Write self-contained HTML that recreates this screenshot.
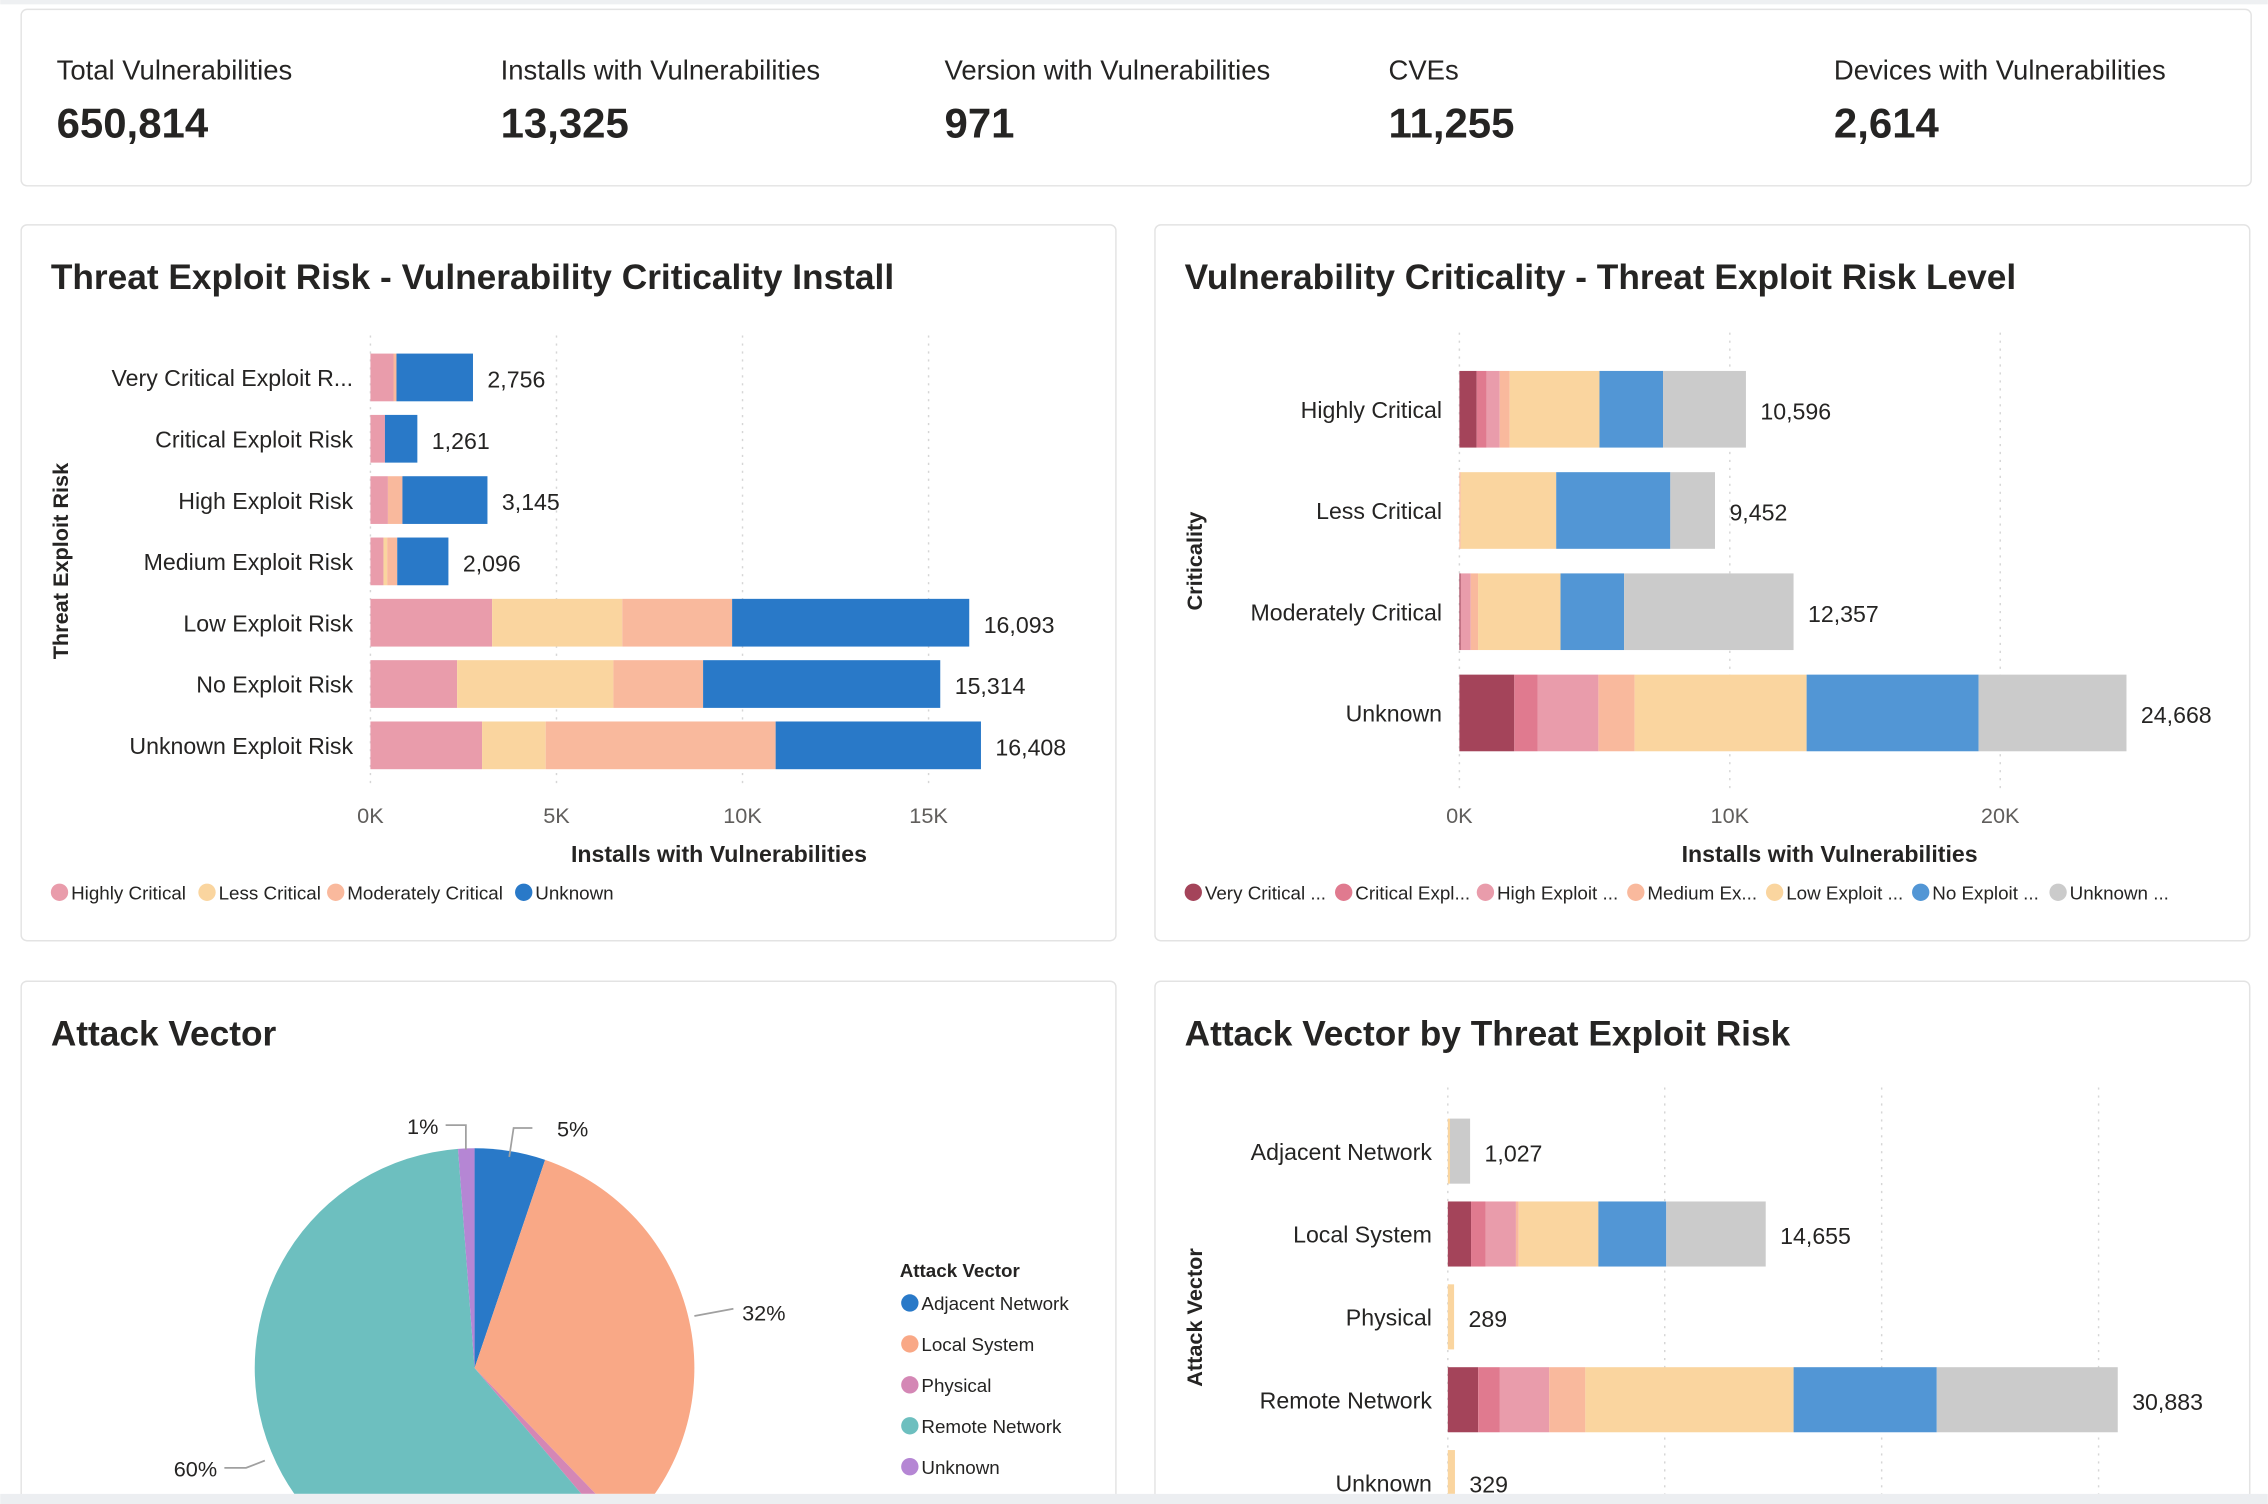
<!DOCTYPE html>
<html><head><meta charset="utf-8"><style>
html,body{margin:0;padding:0;background:#fff;width:2268px;height:1504px;overflow:hidden;}
svg{display:block;font-family:"Liberation Sans",sans-serif;overflow:hidden;}
</style></head><body>
<svg id="root" width="2268" height="1504" viewBox="0 0 1568 1040" xmlns="http://www.w3.org/2000/svg">
<defs><clipPath id="pageclip"><rect x="0" y="0" width="1568" height="1033"/></clipPath></defs>
<rect x="0" y="0" width="1568" height="1040" fill="#ffffff"/>
<rect x="0" y="0" width="1568" height="3" fill="#eef0f2"/>
<g>
<rect x="14.5" y="6.5" width="1542" height="122" rx="4" fill="#fff" stroke="#e3e3e3"/>
<g font-size="19" fill="#252423">
<text x="39" y="55">Total Vulnerabilities</text>
<text x="346" y="55">Installs with Vulnerabilities</text>
<text x="653" y="55">Version with Vulnerabilities</text>
<text x="960" y="55">CVEs</text>
<text x="1268" y="55">Devices with Vulnerabilities</text>
</g>
<g font-size="29" font-weight="bold" fill="#252423">
<text x="39" y="95">650,814</text>
<text x="346" y="95">13,325</text>
<text x="653" y="95">971</text>
<text x="960" y="95">11,255</text>
<text x="1268" y="95">2,614</text>
</g>
</g>
<rect x="14.5" y="155.5" width="757" height="495" rx="4" fill="#fff" stroke="#e3e3e3"/>
<rect x="798.5" y="155.5" width="757" height="495" rx="4" fill="#fff" stroke="#e3e3e3"/>
<rect x="14.5" y="678.5" width="757" height="361" rx="4" fill="#fff" stroke="#e3e3e3"/>
<rect x="798.5" y="678.5" width="757" height="361" rx="4" fill="#fff" stroke="#e3e3e3"/>
<g font-size="24.4" font-weight="bold" fill="#252423">
<text x="35" y="200">Threat Exploit Risk - Vulnerability Criticality Install</text>
<text x="819" y="200">Vulnerability Criticality - Threat Exploit Risk Level</text>
<text x="35" y="723">Attack Vector</text>
<text x="819" y="723">Attack Vector by Threat Exploit Risk</text>
</g>
<g id="c1"></g>
<g id="c2"></g>
<g id="c3" clip-path="url(#pageclip)"></g>
<g id="c4" clip-path="url(#pageclip)"></g>
<rect x="0" y="1033" width="1568" height="7" fill="#eceef1"/>
</svg>
<script>
// ---- Chart 1 data ----
const c1Categories = ["Very Critical Exploit R...","Critical Exploit Risk","High Exploit Risk","Medium Exploit Risk","Low Exploit Risk","No Exploit Risk","Unknown Exploit Risk"];
const c1SeriesNames = ["Highly Critical","Less Critical","Moderately Critical","Unknown"];
const c1HighlyCritical = [620,390,470,350,3270,2330,3000];
const c1LessCritical = [0,0,0,100,3500,4200,1710];
const c1ModeratelyCritical = [80,0,390,270,2950,2410,6180];
const c1Unknown = [2056,871,2285,1376,6373,6374,5518];
const c1Ticks = [0,5000,10000,15000];
const c1TickLabels = ["0K","5K","10K","15K"];
// ---- Chart 2 data ----
const c2Categories = ["Highly Critical","Less Critical","Moderately Critical","Unknown"];
const c2SeriesNames = ["Very Critical ...","Critical Expl...","High Exploit ...","Medium Ex...","Low Exploit ...","No Exploit ...","Unknown ..."];
const c2VeryCritical = [640,0,50,2030];
const c2Critical = [370,0,0,860];
const c2High = [480,0,370,2250];
const c2Medium = [370,50,270,1340];
const c2Low = [3320,3530,3050,6360];
const c2No = [2350,4220,2350,6360];
const c2UnknownRisk = [3066,1652,6267,5468];
const c2Ticks = [0,10000,20000];
const c2TickLabels = ["0K","10K","20K"];
// ---- Chart 3 (pie) data ----
const c3Categories = ["Adjacent Network","Local System","Physical","Remote Network","Unknown"];
const c3Percents = [5.2,32.6,1.0,60.0,1.2];
const c3Labels = ["5%","32%","","60%","1%"];
// ---- Chart 4 data ----
const c4Categories = ["Adjacent Network","Local System","Physical","Remote Network","Unknown"];
const c4VeryCritical = [0,1070,0,1400,0];
const c4Critical = [0,670,0,1000,0];
const c4High = [0,1400,0,2270,0];
const c4Medium = [0,130,0,1670,0];
const c4Low = [100,3670,289,9600,329];
const c4No = [0,3130,0,6600,0];
const c4UnknownRisk = [927,4585,0,8343,0];
const c4Ticks = [0,10000,20000,30000];

const NS="http://www.w3.org/2000/svg";
function mk(parent,tag,attrs,text){const e=document.createElementNS(NS,tag);for(const k in attrs)e.setAttribute(k,attrs[k]);if(text!==undefined)e.textContent=text;parent.appendChild(e);return e;}
const fmt=v=>Math.round(v).toLocaleString("en-US");

function hbar(g,cfg){
  const sx=v=>cfg.x0+v*cfg.pxPerUnit;
  cfg.ticks.forEach((t,i)=>{
    const l=mk(g,"line",{x1:sx(t),x2:sx(t),y1:cfg.gTop,y2:cfg.gBot,stroke:"#d6d6d6","stroke-dasharray":"1.5,4"});
    
    
    if(cfg.tickLabels){
      const tl=mk(g,"text",{x:sx(t),y:cfg.tickY,"text-anchor":"middle","font-size":15,fill:"#605e5c"},cfg.tickLabels[i]);
      
      
    }
  });
  cfg.cats.forEach((c,i)=>{
    const cy=cfg.y0+i*cfg.step;
    const lab=mk(g,"text",{x:cfg.labelX,y:cy+6,"text-anchor":"end","font-size":16,fill:"#252423"},c);
    
    
    let acc=0;
    cfg.series.forEach((s,j)=>{
      const v=s[i];
      if(v>0){
        const r=mk(g,"rect",{x:sx(acc),y:cy-cfg.h/2,width:v*cfg.pxPerUnit,height:cfg.h,fill:cfg.colors[j]});
        
        
      }
      acc+=v;
    });
    const dl=mk(g,"text",{x:sx(acc)+10,y:cy+7,"font-size":16,fill:"#252423"},fmt(acc));
    
    
  });
}
function legend(g,names,colors,xs,y){
  names.forEach((nm,i)=>{
    const c=mk(g,"circle",{cx:xs[i],cy:y,r:6,fill:colors[i]});
    
    
    const t=mk(g,"text",{x:xs[i]+8,y:y+5,"font-size":13,fill:"#252423"},nm);
    
    
  });
}
function axisTitles(g,yTitle,yx,yc,xTitle,xx,xy){
  const a=mk(g,"text",{x:yx,y:yc,transform:`rotate(-90 ${yx} ${yc})`,"text-anchor":"middle","font-size":15,"font-weight":"bold",fill:"#252423"},yTitle);
  
  
  if(xTitle){
    const b=mk(g,"text",{x:xx,y:xy,"text-anchor":"middle","font-size":16,"font-weight":"bold",fill:"#252423"},xTitle);
    
    
  }
}

const c1Colors=["#E99CAB","#FAD59F","#F9B99D","#2979C8"];
const g1=document.getElementById("c1");
hbar(g1,{cats:c1Categories,series:[c1HighlyCritical,c1LessCritical,c1ModeratelyCritical,c1Unknown],colors:c1Colors,x0:256,pxPerUnit:25.73/1000,y0:261,step:42.4,h:33,labelX:244,ticks:c1Ticks,tickLabels:c1TickLabels,gTop:232,gBot:545,tickY:569});
axisTitles(g1,"Threat Exploit Risk",47,388,"Installs with Vulnerabilities",497,596);
legend(g1,c1SeriesNames,c1Colors,[41,143,232,362],617);

const c2Colors=["#A4445A","#E07A8F","#E99CAB","#F9B99D","#FAD59F","#5296D5","#CBCBCB"];
const g2=document.getElementById("c2");
hbar(g2,{cats:c2Categories,series:[c2VeryCritical,c2Critical,c2High,c2Medium,c2Low,c2No,c2UnknownRisk],colors:c2Colors,x0:1009,pxPerUnit:18.7/1000,y0:283,step:70,h:53,labelX:997,ticks:c2Ticks,tickLabels:c2TickLabels,gTop:230,gBot:545,tickY:569});
axisTitles(g2,"Criticality",831,388,"Installs with Vulnerabilities",1265,596);
legend(g2,c2SeriesNames,c2Colors,[825,929,1027,1131,1227,1328,1423],617);

const g4=document.getElementById("c4");
hbar(g4,{cats:c4Categories,series:[c4VeryCritical,c4Critical,c4High,c4Medium,c4Low,c4No,c4UnknownRisk],colors:c2Colors,x0:1001,pxPerUnit:15.0/1000,y0:796,step:57.3,h:45,labelX:990,ticks:c4Ticks,tickLabels:null,gTop:752,gBot:1033});
axisTitles(g4,"Attack Vector",831,911,null);

// Pie
const c3Colors=["#2979C8","#F9A886","#D487B5","#6DBFBF","#B586D4"];
const g3=document.getElementById("c3");
const cx=328,cy=946,R=152;
let start=0;
const tot=c3Percents.reduce((a,b)=>a+b,0);
c3Percents.forEach((p,i)=>{
  const a0=start/tot*2*Math.PI, a1=(start+p)/tot*2*Math.PI;
  const x0=cx+R*Math.sin(a0),y0=cy-R*Math.cos(a0),x1=cx+R*Math.sin(a1),y1=cy-R*Math.cos(a1);
  const large=(a1-a0)>Math.PI?1:0;
  const s=mk(g3,"path",{d:`M${cx},${cy} L${x0},${y0} A${R},${R} 0 ${large} 1 ${x1},${y1} Z`,fill:c3Colors[i]});
  
  
  start+=p;
});
const leaders=[["M352,800 L355,780 L368,780",385,786,"start",0],["M480,910 L507,905",513,913,"start",1],["M183,1010 L170,1015 L155,1015",150,1021,"end",3],["M322,795 L322,778 L308,778",303,784,"end",4]];
leaders.forEach(l=>{
  const p=mk(g3,"path",{d:l[0],fill:"none",stroke:"#a0a0a0","stroke-width":1.2});
  
  
  const t=mk(g3,"text",{x:l[1],y:l[2],"text-anchor":l[3],"font-size":15,fill:"#252423"},c3Labels[l[4]]);
  
  
});
const lt=mk(g3,"text",{x:622,y:883,"font-size":13,"font-weight":"bold",fill:"#252423"},"Attack Vector");


c3Categories.forEach((c,i)=>{
  const y=901+i*28.3;
  const d=mk(g3,"circle",{cx:629,cy:y,r:6,fill:c3Colors[i]});
  
  
  const t=mk(g3,"text",{x:637,y:y+5,"font-size":13,fill:"#252423"},c);
  
  
});
</script>
</body></html>
